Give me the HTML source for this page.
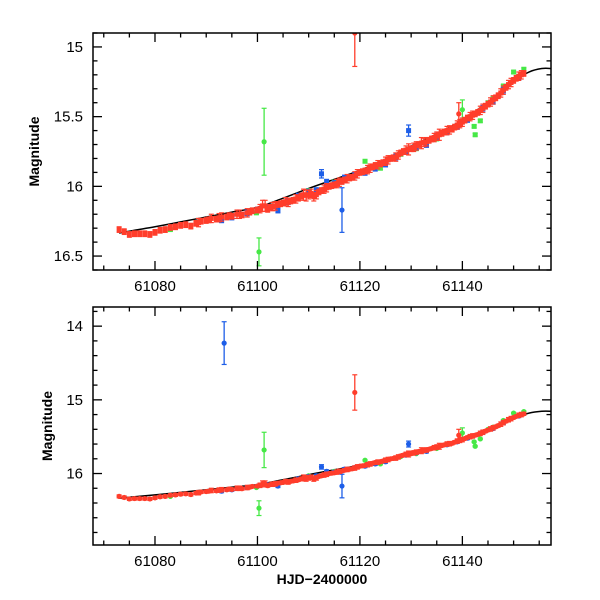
<!DOCTYPE html>
<html><head><meta charset="utf-8"><style>
html,body{margin:0;padding:0;background:#fff}
svg{display:block}
text{font-family:"Liberation Sans",sans-serif;fill:#000}
</style></head><body>
<svg id="chart" width="600" height="600" viewBox="0 0 600 600"></svg>
<script>
const modelT=[61073,61076,61080,61085,61090,61095,61100,61105,61110,61115,61120,61125,61130,61135,61140,61145,61150,61153,61155.5,61157.5];
const modelM=[16.335,16.315,16.29,16.255,16.22,16.185,16.15,16.085,16.015,15.95,15.885,15.805,15.71,15.625,15.525,15.395,15.245,15.18,15.155,15.155];
const redT=[61073,61074,61075,61076,61077,61078,61079,61080,61081,61082,61083,61084,61085,61086,61087,61088,61089,61090,61091,61092,61093,61094,61095,61096,61097,61098,61099,61100,61101,61102,61103,61104,61105,61106,61107,61108,61109,61110,61111,61112,61113,61114,61115,61116,61117,61118,61119,61120,61121,61122,61123,61124,61125,61126,61127,61128,61129,61130,61131,61132,61133,61134,61135,61136,61137,61138,61139,61140,61141,61142,61143,61144,61145,61146,61147,61148,61149,61150,61151,61152,
61088.5,61090.5,61092.5,61094.5,61096.5,61098.5,61100.5,61101.5,61102.5,61103.5,61104.5,61105.5,61106.5,61107.5,61108.5,61109.5,61110.5,61111.5,61112.5,61113.5,61114.5,61115.5,61116.5,61117.5,61118.5,61119.5,61120.5,61121.5,61122.5,61123.5,61124.5,61125.5,61126.5,61127.5,61128.5,61129.5,61130.5,61131.5,61132.5,61133.5,61134.5,61135.5,61136.5,61137.5,61138.5,61139.5,61139.3,61140.5,61141.5,61142.5,61143.5,61144.5,61145.5,61146.5,61147.5,61148.5,61149.5,61150.5,61151.5,61119];
const redM=[16.31,16.325,16.345,16.34,16.34,16.34,16.345,16.33,16.315,16.31,16.295,16.29,16.28,16.275,16.285,16.265,16.25,16.245,16.23,16.235,16.22,16.22,16.215,16.2,16.205,16.19,16.175,16.17,16.14,16.165,16.145,16.13,16.12,16.115,16.1,16.085,16.06,16.06,16.075,16.04,16.02,16.0,15.99,15.97,15.955,15.94,15.925,15.9,15.89,15.87,15.85,15.84,15.82,15.8,15.79,15.76,15.74,15.73,15.71,15.69,15.68,15.66,15.64,15.62,15.6,15.59,15.56,15.54,15.51,15.49,15.47,15.44,15.41,15.38,15.35,15.31,15.27,15.24,15.21,15.19,
16.26,16.24,16.225,16.21,16.2,16.185,16.16,16.14,16.15,16.14,16.125,16.11,16.105,16.09,16.07,16.065,16.05,16.06,16.03,16.01,15.995,15.98,15.965,15.945,15.935,15.91,15.895,15.88,15.86,15.845,15.83,15.81,15.795,15.775,15.75,15.735,15.72,15.7,15.685,15.67,15.65,15.63,15.61,15.595,15.575,15.55,15.48,15.525,15.5,15.48,15.455,15.425,15.395,15.365,15.33,15.29,15.255,15.225,15.2,14.90];
const redE=[0.02,0.02,0.02,0.02,0.02,0.02,0.02,0.02,0.02,0.02,0.02,0.02,0.02,0.02,0.02,0.02,0.02,0.02,0.03,0.02,0.03,0.02,0.02,0.03,0.02,0.03,0.02,0.02,0.04,0.02,0.03,0.02,0.02,0.03,0.02,0.02,0.04,0.03,0.03,0.02,0.03,0.02,0.02,0.03,0.02,0.02,0.03,0.02,0.02,0.03,0.02,0.02,0.03,0.02,0.03,0.02,0.03,0.02,0.03,0.04,0.03,0.02,0.03,0.02,0.03,0.02,0.03,0.03,0.02,0.03,0.02,0.03,0.02,0.03,0.02,0.03,0.03,0.02,0.03,0.02,
0.03,0.02,0.03,0.02,0.03,0.02,0.03,0.04,0.02,0.03,0.02,0.03,0.02,0.03,0.02,0.04,0.03,0.03,0.02,0.03,0.02,0.03,0.02,0.03,0.02,0.03,0.02,0.03,0.02,0.03,0.02,0.03,0.02,0.03,0.02,0.04,0.03,0.02,0.03,0.02,0.03,0.04,0.02,0.03,0.02,0.03,0.08,0.02,0.03,0.02,0.03,0.02,0.03,0.02,0.03,0.02,0.03,0.02,0.03,0.24];
const blueT=[61093,61095,61098,61100,61102,61104,61106,61108,61110,61111.5,61112.5,61113.5,61115,61117,61119,61121,61123,61125,61127,61129,61129.5,61131,61133,61135,61137,61139,61141,61144,61146,61148,61151,61093.5,61116.5];
const blueM=[16.24,16.22,16.19,16.17,16.15,16.17,16.11,16.07,16.04,16.03,15.91,15.97,15.98,15.94,15.92,15.9,15.87,15.84,15.79,15.75,15.60,15.72,15.7,15.64,15.61,15.57,15.52,15.44,15.39,15.31,15.22,14.23,16.17];
const blueE=[0.02,0.02,0.02,0.02,0.02,0.02,0.02,0.02,0.02,0.02,0.03,0.02,0.02,0.02,0.02,0.02,0.02,0.02,0.02,0.02,0.04,0.02,0.02,0.02,0.02,0.02,0.02,0.02,0.02,0.02,0.02,0.29,0.16];
const greenT=[61083,61099.8,61100.3,61101.3,61105,61110,61115,61121,61124,61128,61131,61135,61140,61142.3,61142.5,61143.5,61145,61146,61148,61150,61152];
const greenM=[16.31,16.19,16.47,15.68,16.12,16.03,15.97,15.82,15.87,15.77,15.73,15.66,15.45,15.57,15.63,15.53,15.40,15.37,15.28,15.18,15.16];
const greenE=[0.01,0.01,0.1,0.24,0.01,0.01,0.01,0.01,0.01,0.01,0.01,0.01,0.07,0.01,0.01,0.01,0.01,0.01,0.01,0.01,0.01];
const xTicks=[61080,61100,61120,61140];

const NS='http://www.w3.org/2000/svg';
const svg=document.getElementById('chart');
function mk(tag,attrs,parent){const e=document.createElementNS(NS,tag);for(const k in attrs)e.setAttribute(k,attrs[k]);(parent||svg).appendChild(e);return e;}
const X0=93,X1=551,T0=61067.9,T1=61157.3;
function xs(t){return X0+(t-T0)/(T1-T0)*(X1-X0);}
const RED='#ff3d2b',BLUE='#1d5ee8',GREEN='#46e846';

function panel(id,top,bottom,m0,m1,majY,minY,yLabels,square,titleX){
  const ys=m=>top+(m-m0)/(m1-m0)*(bottom-top);
  const g=mk('g',{});
  
  
  const cp=mk('clipPath',{id:id+'-clip'},g);
  mk('rect',{x:X0,y:top,width:X1-X0,height:bottom-top},cp);
  const plot=mk('g',{'clip-path':'url(#'+id+'-clip)'},g);
  const pts=modelT.map((t,i)=>[xs(t),ys(modelM[i])]);
  let d='M'+pts[0][0]+','+pts[0][1];
  for(let i=0;i<pts.length-1;i++){
    const p0=pts[Math.max(0,i-1)],p1=pts[i],p2=pts[i+1],p3=pts[Math.min(pts.length-1,i+2)];
    const c1=[p1[0]+(p2[0]-p0[0])/6,p1[1]+(p2[1]-p0[1])/6],c2=[p2[0]-(p3[0]-p1[0])/6,p2[1]-(p3[1]-p1[1])/6];
    d+=' C'+c1+' '+c2+' '+p2;
  }
  const ml=mk('path',{d:d,fill:'none',stroke:'#000','stroke-width':1.5},plot);
  
  
  function series(T,M,E,col,name){
    const sg=mk('g',{fill:col,stroke:col},plot);
    
    
    T.forEach((t,i)=>{
      const x=xs(t),y=ys(M[i]),ya=ys(M[i]-E[i]),yb=ys(M[i]+E[i]);
      mk('line',{x1:x,x2:x,y1:ya,y2:yb,'stroke-width':1.3},sg);
      mk('line',{x1:x-2.5,x2:x+2.5,y1:ya,y2:ya,'stroke-width':1.2},sg);
      mk('line',{x1:x-2.5,x2:x+2.5,y1:yb,y2:yb,'stroke-width':1.2},sg);
      let p;
      if(square&&E[i]<0.05) p=mk('rect',{x:x-2.5,y:y-2.5,width:5,height:5,stroke:'none'},sg);
      else p=mk('circle',{cx:x,cy:y,r:2.6,stroke:'none'},sg);
      
      
    });
  }
  series(greenT,greenM,greenE,GREEN,'green-band');
  series(blueT,blueM,blueE,BLUE,'blue-band');
  series(redT,redM,redE,RED,'red-band');
  const fr=mk('rect',{x:X0,y:top,width:X1-X0,height:bottom-top,fill:'none',stroke:'#000','stroke-width':1.5},g);
  
  
  const tg=mk('g',{stroke:'#000','stroke-width':1.3},g);
  for(let t=61070;t<=61157;t+=5){
    const x=xs(t),L=(t%20===0)?9:4.5;
    mk('line',{x1:x,x2:x,y1:bottom,y2:bottom-L},tg);
    mk('line',{x1:x,x2:x,y1:top,y2:top+L},tg);
  }
  xTicks.forEach(t=>{
    const tx=mk('text',{x:xs(t),y:bottom+21,'text-anchor':'middle','font-size':15},g);
    tx.textContent=t;
    
    
  });
  for(let k=Math.ceil(m0/minY-1e-6);k*minY<=m1+1e-6;k++){
    const m=k*minY,y=ys(m);
    const maj=Math.abs(m/majY-Math.round(m/majY))<1e-6;
    const L=maj?9:4.5;
    mk('line',{x1:X0,x2:X0+L,y1:y,y2:y},tg);
    mk('line',{x1:X1,x2:X1-L,y1:y,y2:y},tg);
  }
  yLabels.forEach(m=>{
    const tx=mk('text',{x:X0-10,y:ys(m)+5,'text-anchor':'end','font-size':15},g);
    tx.textContent=String(m);
    
    
  });
  const yl=mk('text',{x:0,y:0,'text-anchor':'middle','font-size':14,'font-weight':'bold',transform:'translate('+titleX+','+((top+bottom)/2)+') rotate(-90)'},g);
  yl.textContent='Magnitude';
  
  
}
panel('top-panel',33,270,14.9,16.6,0.5,0.1,[15,15.5,16,16.5],true,39);
panel('bottom-panel',307,545,13.74,16.97,1,0.2,[14,15,16],false,52);
const xl=mk('text',{x:322,y:584,'text-anchor':'middle','font-size':14,'font-weight':'bold'});
xl.textContent='HJD\u22122400000';


</script>
</body></html>
